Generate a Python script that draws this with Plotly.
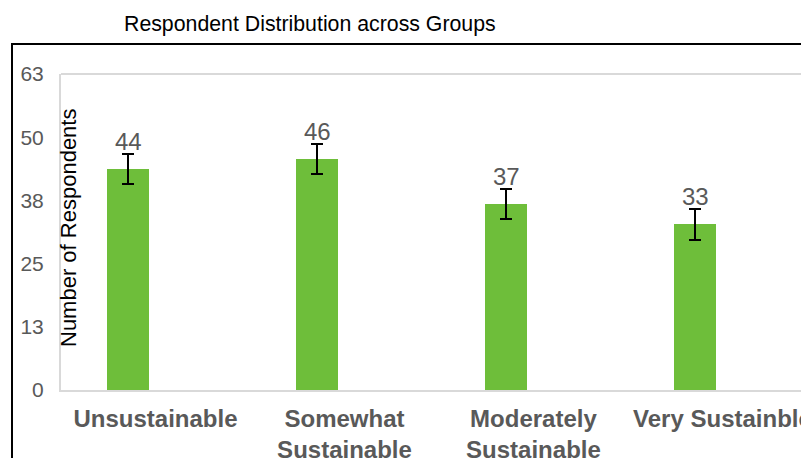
import plotly.graph_objects as go

categories = ["Unsustainable", "Somewhat<br>Sustainable", "Moderately<br>Sustainable", "Very Sustainble"]
values = [44, 46, 37, 33]
errors = [3, 3, 3, 3]
tick_vals = [0, 12.6, 25.2, 37.8, 50.4, 63]
tick_text = ["0", "13", "25", "38", "50", "63"]

FONT = "Liberation Sans, Arial, sans-serif"
GRAY = "#595959"

# page has an 8px body margin: figure coords = page coords - 8
W, H = 801, 450
L, T, B = 53, 66, 68
PW, PH = W - L, H - T - B
BAR_W = 0.222
BAR_SHIFT = -0.143  # bars sit left of the category centre (as in the original chart)
CAT_PX = PW / 3.958

fig = go.Figure()
fig.add_trace(go.Bar(
    x=categories, y=values, width=BAR_W, offset=BAR_SHIFT - BAR_W / 2,
    marker=dict(color="#6EBE3A", line=dict(width=0)),
    error_y=dict(type="data", array=errors, visible=True, color="black", thickness=2, width=6),
))

for c, v, e in zip(categories, values, errors):
    fig.add_annotation(x=c, y=v, text=str(v), showarrow=False, yanchor="bottom", yshift=12,
                       xshift=BAR_SHIFT * CAT_PX,
                       font=dict(family=FONT, size=24, color=GRAY))

fig.add_annotation(xref="paper", yref="paper", x=(60 - L) / PW, y=(H - B - 220) / PH,
                   text="Number of Respondents", textangle=-90, showarrow=False,
                   xanchor="center", yanchor="middle",
                   font=dict(family=FONT, size=22, color="black"))

# top border of plot area
fig.add_shape(type="line", xref="paper", yref="paper", x0=0, x1=1.02, y0=1, y1=1,
              line=dict(color="#d9d9d9", width=2))
# outer chart frame
fig.add_shape(type="rect", xref="paper", yref="paper", x0=(4 - L) / PW, x1=1.05,
              y0=-0.4, y1=1 + (T - 36) / PH,
              line=dict(color="black", width=2), layer="below")

fig.update_layout(
    width=W, height=H,
    margin=dict(l=L, r=0, t=T, b=B),
    paper_bgcolor="white", plot_bgcolor="white",
    showlegend=False,
    title=dict(text="Respondent Distribution across Groups", xref="container", yref="container",
               x=116 / W, y=1 - 16 / H, xanchor="left", yanchor="middle",
               font=dict(family=FONT, size=21.3, color="black")),
    xaxis=dict(type="category", range=[-0.5, 3.458], showline=True, linecolor="#d9d9d9", linewidth=2,
               showgrid=False, ticks="", tickfont=dict(family=FONT, size=24, color=GRAY, weight="bold"),
               ticklabelstandoff=6, automargin=False),
    yaxis=dict(range=[0, 63], tickvals=tick_vals, ticktext=tick_text, showline=True, linecolor="#d9d9d9",
               linewidth=2, showgrid=False, zeroline=False, ticks="",
               tickfont=dict(family=FONT, size=21, color=GRAY), ticklabelstandoff=11, automargin=False),
    bargap=0,
)

fig.write_html("out.html")
